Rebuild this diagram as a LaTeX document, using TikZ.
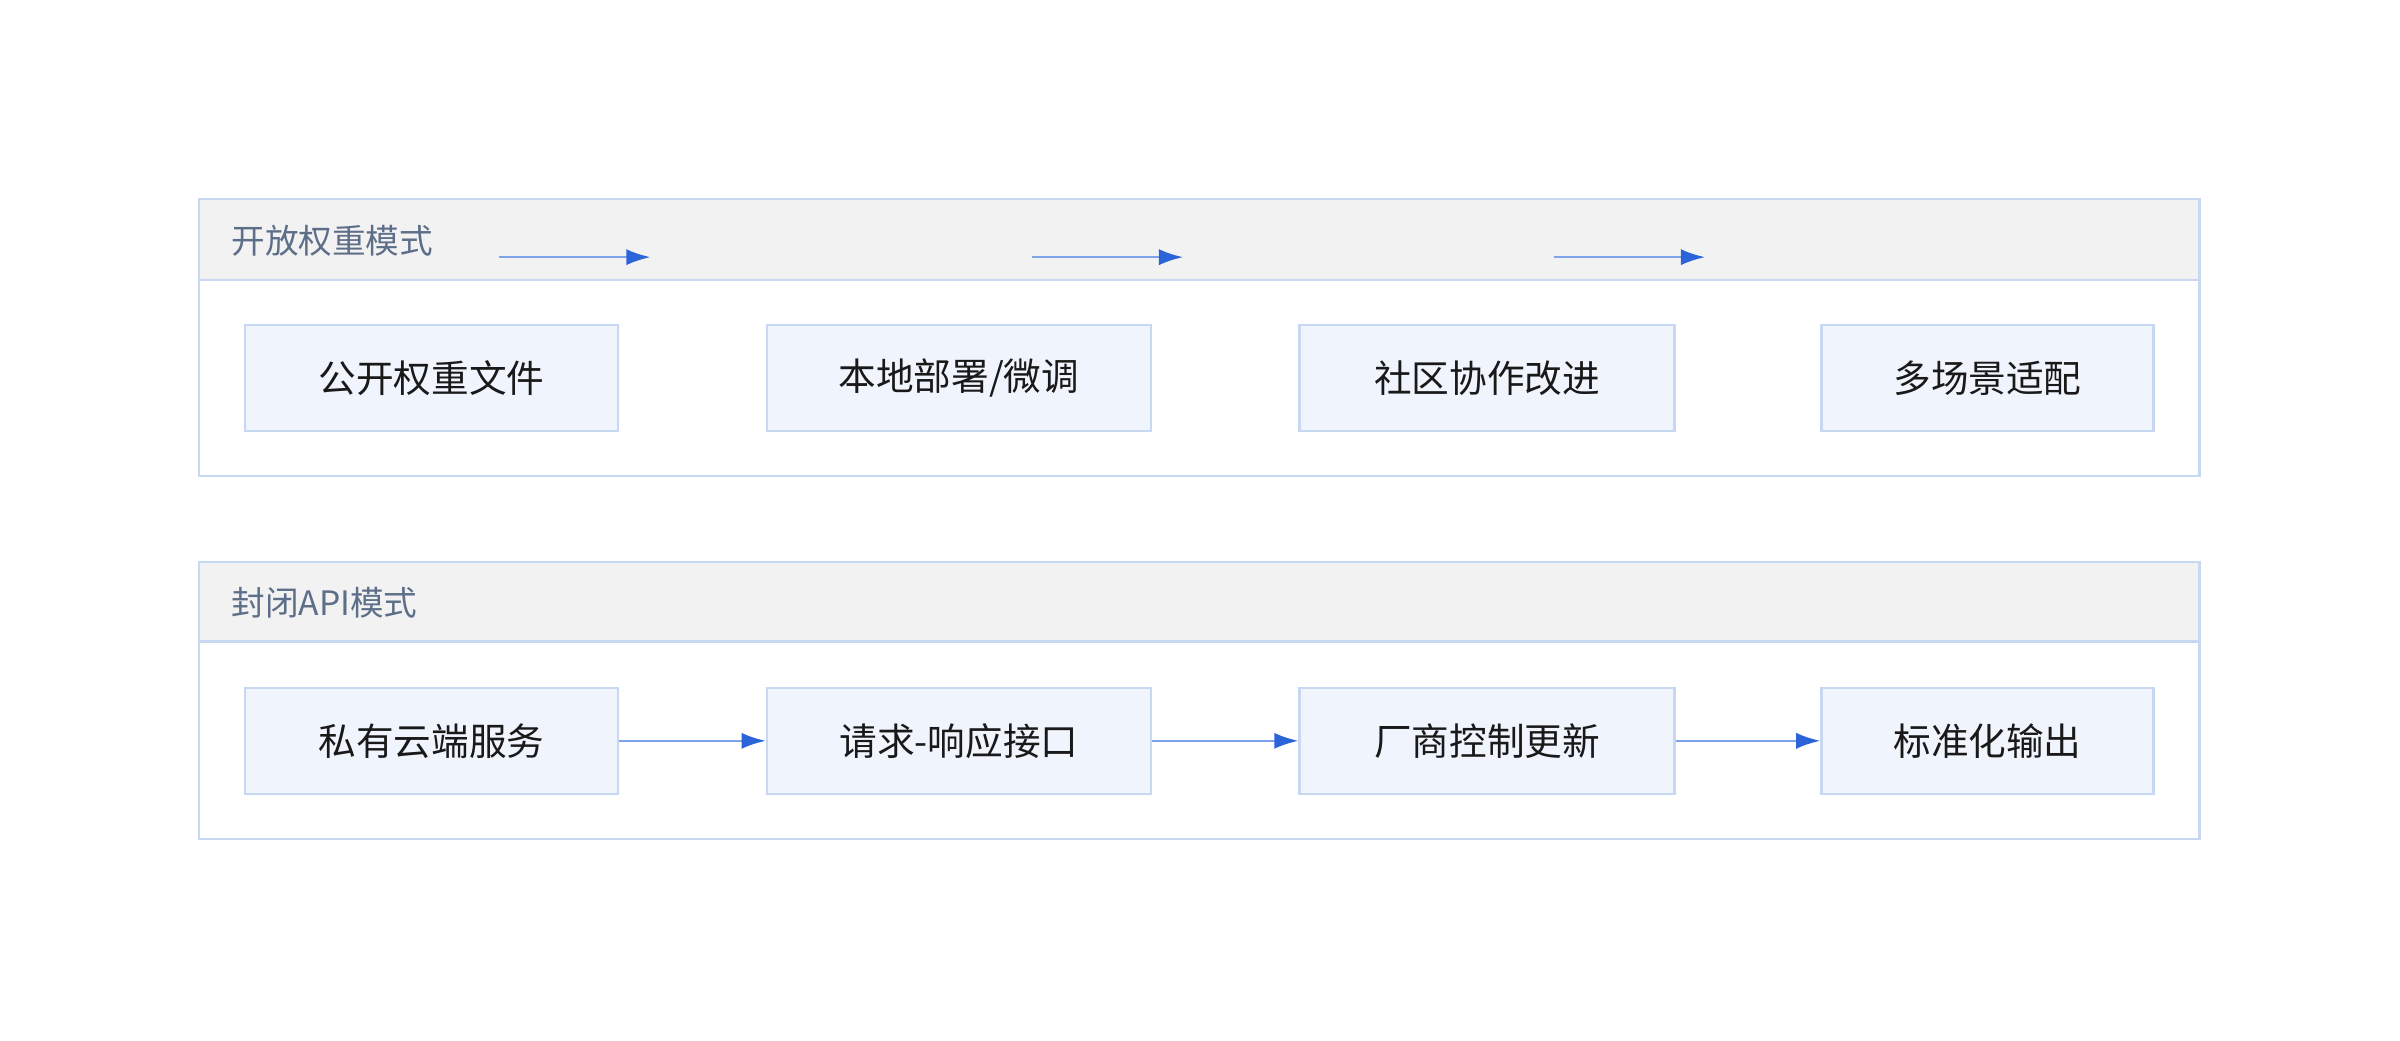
\documentclass[tikz,border=0pt]{standalone}
\usepackage{fontspec}
\setmainfont{Noto Sans CJK SC}
\usetikzlibrary{positioning, arrows.meta, calc}
\definecolor{laneborder}{HTML}{C9D8F2}
\definecolor{headfill}{HTML}{F2F2F2}
\definecolor{stepfill}{HTML}{F0F5FD}
\definecolor{flowline}{HTML}{7FA3E8}
\definecolor{flowtip}{HTML}{2B63D9}
\definecolor{headtext}{HTML}{5D6E88}

\begin{document}
\begin{tikzpicture}[x=0.02cm, y=-0.02cm,
	stage/.style={draw=laneborder, line width=0.8pt, fill=stepfill, minimum height=1.38cm, font=\fontsize{14}{16}\selectfont, text=black!90, inner sep=0pt},
	lane/.style={draw=laneborder, line width=0.9pt},
	head/.style={draw=laneborder, line width=0.9pt, fill=headfill},
	flow/.style={draw=flowline, line width=0.9pt, -{Latex[length=9pt, width=6pt, color=flowtip]}},
	title/.style={anchor=west, text=headtext, font=\fontsize{12.5}{14}\selectfont}]
	\useasboundingbox (0,0) rectangle (1568,680);
	% open weights lane
	\draw[lane] (130,130) rectangle (1437,311);
	\draw[head] (130,130) rectangle (1437,183);
	\node[title] (openT) at (145,157) {开放权重模式};
	\node[stage, minimum width=4.88cm] (o1) at (282,247) {公开权重文件};
	\node[stage, minimum width=5.02cm] (o2) at (626.5,247) {本地部署/微调};
	\node[stage, minimum width=4.90cm] (o3) at (971.5,247) {社区协作改进};
	\node[stage, minimum width=4.34cm] (o4) at (1298.5,247) {多场景适配};
	\coordinate (a1) at (326,168); \coordinate (b1) at (425,168);
	\coordinate (a2) at (674,168); \coordinate (b2) at (773,168);
	\coordinate (a3) at (1015,168); \coordinate (b3) at (1114,168);
	\foreach \i in {1,2,3}
		\draw[flow] (a\i) -- (b\i);
	% closed API lane
	\draw[lane] (130,367) rectangle (1437,548);
	\draw[head] (130,367) rectangle (1437,419);
	\node[title] (closedT) at (145,394) {封闭API模式};
	\node[stage, minimum width=4.88cm] (c1) at (282,484) {私有云端服务};
	\node[stage, minimum width=5.02cm] (c2) at (626.5,484) {请求-响应接口};
	\node[stage, minimum width=4.90cm] (c3) at (971.5,484) {厂商控制更新};
	\node[stage, minimum width=4.34cm] (c4) at (1298.5,484) {标准化输出};
	\draw[flow] (c1) -- (c2);
	\draw[flow] (c2) -- (c3);
	\draw[flow] (c3) -- (c4);
\end{tikzpicture}
\end{document}
